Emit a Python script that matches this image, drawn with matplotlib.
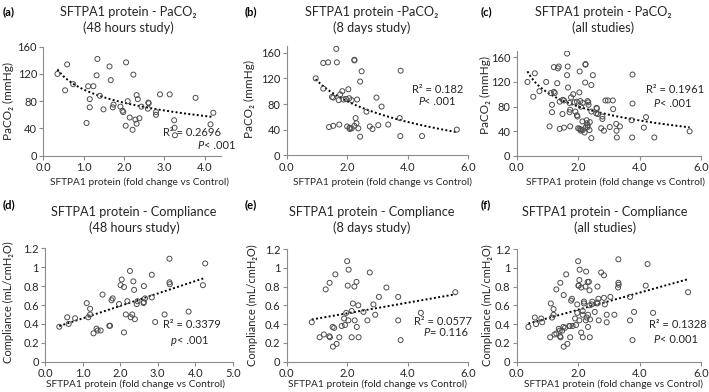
import numpy as np
import matplotlib
matplotlib.use('Agg')
import matplotlib.pyplot as plt

plt.rcParams['font.family'] = ['Lato', 'DejaVu Sans']

# ---- data ----
# (a) PaCO2, 48 hours study
a_x = [0.35, 0.59, 0.54, 0.74, 1.34, 1.32, 1.11, 1.24, 1.07, 1.15, 1.15, 1.40, 1.49,
       1.64, 1.67, 1.72, 1.74, 1.91, 1.96, 1.98, 2.05, 2.04, 2.09, 2.14, 2.21, 2.23,
       2.28, 2.31, 2.34, 2.31, 2.38, 2.43, 2.60, 2.61, 2.59, 2.79, 2.79, 2.89, 3.13,
       3.24, 3.25, 3.26, 3.77, 4.14, 4.21]
a_y = [120, 134, 96, 105, 142, 118, 102, 102, 48, 83, 71, 88, 68,
       131, 111, 71, 75, 72, 66, 64, 137, 44, 80, 56, 38, 119,
       53, 89, 83, 47, 55, 72, 78, 77, 69, 64, 60, 90, 90,
       52, 41, 30, 85, 46, 63]

# (b) PaCO2, 8 days study
b_x = [0.96, 1.21, 1.37, 1.21, 1.64, 1.66, 1.50, 1.54, 1.72, 1.77, 1.84, 1.88, 1.96,
       2.04, 2.07, 2.15, 2.24, 2.24, 2.33, 2.43, 2.48, 2.64, 2.97, 3.14, 3.77, 1.40,
       1.54, 1.74, 2.00, 2.08, 2.09, 2.15, 2.24, 2.28, 2.31, 2.37, 2.43, 2.75, 2.84,
       3.03, 3.36, 3.74, 3.76, 4.48, 5.63]
b_y = [120, 144, 145, 104, 166, 145, 91, 90, 86, 95, 100, 87, 88,
       103, 89, 86, 149, 148, 87, 115, 131, 68, 90, 76, 132, 44,
       46, 48, 45, 43, 41, 42, 46, 58, 50, 42, 29, 45, 41,
       47, 48, 58, 30, 30, 40]

# (d) Compliance, 48 hours study
d_x = [0.38, 0.59, 0.63, 0.80, 1.11, 1.15, 1.20, 1.20, 1.29, 1.37, 1.40, 1.48, 1.53,
       1.71, 1.73, 1.77, 1.80, 1.97, 2.01, 2.04, 2.10, 2.10, 2.15, 2.19, 2.26, 2.28,
       2.32, 2.35, 2.37, 2.39, 2.44, 2.46, 2.62, 2.63, 2.66, 2.63, 2.84, 2.84, 2.93,
       3.18, 3.31, 3.31, 3.32, 3.82, 4.20, 4.26]
d_y = [0.37, 0.47, 0.40, 0.46, 0.62, 0.47, 0.56, 0.50, 0.30, 0.35, 0.33, 0.33, 0.71,
       0.38, 0.38, 0.65, 0.67, 0.61, 0.81, 0.87, 0.79, 0.31, 0.50, 0.64, 0.96, 0.47,
       0.50, 0.85, 0.76, 0.45, 0.61, 0.64, 0.62, 0.80, 0.67, 0.63, 0.92, 0.68, 0.42,
       0.50, 1.09, 0.84, 0.82, 0.53, 0.81, 1.04]

# (e) Compliance, 8 days study
e_x = [0.83, 1.29, 1.42, 1.61, 1.23, 1.09, 1.41, 1.43, 1.52, 1.57, 1.53, 1.65, 1.74,
       1.82, 1.90, 1.93, 1.97, 2.04, 2.00, 2.05, 2.02, 2.15, 2.15, 2.19, 2.24, 2.31,
       2.25, 2.32, 2.37, 2.38, 2.54, 2.67, 2.75, 2.87, 2.93, 3.05, 3.30, 3.69, 3.69,
       3.77, 4.44, 5.58]
e_y = [0.42, 0.77, 0.84, 0.93, 0.29, 0.26, 0.27, 0.26, 0.37, 0.36, 0.16, 0.19, 0.26,
       0.38, 0.46, 0.39, 0.52, 0.44, 1.07, 0.98, 0.81, 0.54, 0.26, 0.62, 0.80, 0.85,
       0.44, 0.37, 0.60, 0.26, 0.53, 0.44, 0.95, 0.61, 0.50, 0.69, 0.79, 0.69, 0.44,
       0.23, 0.52, 0.74]

# (c) and (f) pool both studies
c_x, c_y = a_x + b_x, a_y + b_y
f_x, f_y = d_x + e_x, d_y + e_y

labels = ['(a)', '(b)', '(c)', '(d)', '(e)', '(f)']
titles = ['SFTPA1 protein - PaCO\u2082\n(48 hours study)',
          'SFTPA1 protein -PaCO\u2082\n(8 days study)',
          'SFTPA1 protein - PaCO\u2082\n(all studies)',
          'SFTPA1 protein - Compliance\n(48 hours study)',
          'SFTPA1 protein - Compliance\n(8 days study)',
          'SFTPA1 protein - Compliance\n(all studies)']
r2_text = ['R\u00b2 = 0.2696', 'R\u00b2 = 0.182', 'R\u00b2 = 0.1961',
           'R\u00b2 = 0.3379', 'R\u00b2 = 0.0577', 'R\u00b2 = 0.1328']
p_sym = ['P', 'P', 'P', 'p', 'P', 'P']
p_rest = ['< .001', '< .001', '< .001', '< .001', '= 0.116', '< 0.001']
xlabel = 'SFTPA1 protein (fold change vs Control)'
ylabels = ['PaCO\u2082 (mmHg)'] * 3 + ['Compliance (mL/cmH\u2082O)'] * 3

W, H = 709, 392
fig = plt.figure(figsize=(W / 100, H / 100), dpi=100)


def px_axes(left, top, right, bottom):
    return fig.add_axes([left / W, 1 - bottom / H, (right - left) / W, (bottom - top) / H])


# axes boxes in pixels: left, top, right, bottom
boxes = [(43.3, 46.7, 221, 155.7), (286.7, 46.3, 468, 155.3), (516.7, 51.1, 701, 156),
         (45, 248.3, 233, 361.7), (286.7, 249, 468, 361.7), (516.7, 249, 701, 361.7)]
xlims = [(0, 4.4), (0, 6), (0, 6), (0, 5), (0, 6), (0, 6)]
xticks = [np.arange(0, 4.1, 1.0), np.arange(0, 6.1, 2.0), np.arange(0, 6.1, 2.0),
          np.arange(0, 5.1, 1.0), np.arange(0, 6.1, 2.0), np.arange(0, 6.1, 2.0)]
ylims = [(0, 160), (0, 170), (0, 170), (0, 1.2), (0, 1.2), (0, 1.2)]
yticks = [np.arange(0, 161, 40)] * 3 + [[0, 0.2, 0.4, 0.6, 0.8, 1, 1.2]] * 3
ytick_lbl = [['0', '40', '80', '120', '160']] * 3 + [['0', '0.2', '0.4', '0.6', '0.8', '1', '1.2']] * 3
datasets = [(a_x, a_y), (b_x, b_y), (c_x, c_y), (d_x, d_y), (e_x, e_y), (f_x, f_y)]
fit_kind = ['log', 'log', 'log', 'linear', 'linear', 'linear']

# text positions (axes fraction)
r2_pos = [(0.675, 0.21), (0.69, 0.60), (0.70, 0.63), (0.630, 0.324), (0.700, 0.355), (0.718, 0.33)]
p_pos = [(0.905, 0.09), (0.76, 0.49), (0.775, 0.50), (0.70, 0.185), (0.79, 0.26), (0.775, 0.20)]
# figure pixel positions
lab_pos = [(3, 12), (245, 12), (481, 12), (3, 205), (245, 205), (481, 205)]
title_pos = [(128, 20), (372, 20), (603, 20), (134, 220), (372, 220), (605, 220)]
ylab_pos = [(8, 101), (249, 99), (485, 95), (8, 302), (252, 305), (487, 305)]
xlab_pos = [(140, 182), (382, 182), (615, 182), (135, 384), (378, 384), (613, 384)]
ylab_size = [8.5, 8.5, 8.5, 8, 8, 8]

txt = '#262626'
for i in range(6):
    ax = px_axes(*boxes[i])
    x, y = np.array(datasets[i][0]), np.array(datasets[i][1])
    ax.scatter(x, y, s=13, facecolors='none', edgecolors='#4d4d4d', linewidths=0.7, zorder=3)

    # Excel-style trendlines: logarithmic for PaCO2, linear for compliance
    xs = np.linspace(x.min(), x.max(), 200)
    if fit_kind[i] == 'log':
        b, a = np.polyfit(np.log(x), y, 1)
        ys = a + b * np.log(xs)
    else:
        b, a = np.polyfit(x, y, 1)
        ys = a + b * xs
    ax.plot(xs, ys, color='black', lw=1.4, linestyle=(0, (1, 1.2)), zorder=2)

    ax.set_xlim(*xlims[i])
    ax.set_ylim(*ylims[i])
    ax.set_xticks(xticks[i])
    ax.set_xticklabels([f'{v:.1f}' for v in xticks[i]])
    ax.set_yticks(yticks[i])
    ax.set_yticklabels(ytick_lbl[i])
    for s in ['top', 'right']:
        ax.spines[s].set_visible(False)
    for s in ['left', 'bottom']:
        ax.spines[s].set_color('#8c8c8c')
        ax.spines[s].set_linewidth(0.8)
    ax.tick_params(direction='out', length=3, width=0.8, color='#8c8c8c',
                   labelsize=8, labelcolor=txt, pad=1.5)

    ax.text(*r2_pos[i], r2_text[i], transform=ax.transAxes, fontsize=8,
            color=txt, va='center', ha='left')
    ax.text(*p_pos[i], p_sym[i], transform=ax.transAxes, fontsize=8,
            color=txt, va='center', ha='right', style='italic')
    ax.text(*p_pos[i], p_rest[i], transform=ax.transAxes, fontsize=8,
            color=txt, va='center', ha='left')

    fig.text(lab_pos[i][0] / W, 1 - lab_pos[i][1] / H, labels[i], fontsize=8,
             fontweight='bold', color='black', va='center', ha='left')
    fig.text(title_pos[i][0] / W, 1 - title_pos[i][1] / H, titles[i], fontsize=9.2,
             color=txt, va='center', ha='center', linespacing=1.3)
    fig.text(ylab_pos[i][0] / W, 1 - ylab_pos[i][1] / H, ylabels[i], fontsize=ylab_size[i],
             color=txt, va='center', ha='center', rotation=90)
    fig.text(xlab_pos[i][0] / W, 1 - xlab_pos[i][1] / H, xlabel, fontsize=7.3,
             color=txt, va='center', ha='center')

fig.savefig('out.png', dpi=100)
